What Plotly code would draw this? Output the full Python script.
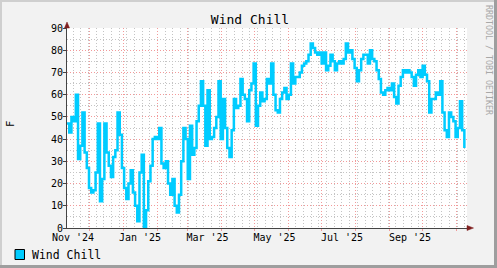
import plotly.graph_objects as go
import pandas as pd

# ---- data ----
wind_chill = [
    47, 43, 50, 48, 60, 31, 37, 52, 34, 27,
    18, 16, 17, 25, 47, 12, 22, 47, 34, 28,
    23, 32, 35, 52, 42, 27, 18, 13, 20, 26,
    16, 10, 3, 25, 33, 0, 8, 21, 28, 40,
    41, 40, 45, 29, 27, 30, 20, 15, 22, 10,
    7, 15, 30, 45, 40, 22, 46, 33, 36, 48,
    55, 66, 55, 37, 62, 40, 41, 45, 50, 66,
    40, 58, 45, 36, 32, 44, 58, 54, 55, 67,
    60, 58, 48, 62, 65, 74, 46, 55, 61, 57,
    58, 67, 65, 74, 60, 53, 52, 58, 61, 63,
    58, 60, 74, 65, 68, 68, 70, 73, 74, 75,
    78, 83, 81, 79, 78, 79, 74, 79, 71, 73,
    78, 75, 71, 74, 75, 74, 76, 83, 79, 80,
    76, 72, 66, 71, 76, 78, 78, 74, 80, 76,
    75, 71, 67, 61, 60, 62, 63, 62, 65, 59,
    56, 64, 68, 71, 70, 71, 70, 68, 64, 69,
    71, 68, 73, 69, 66, 52, 58, 58, 61, 60,
    66, 52, 44, 41, 52, 50, 48, 41, 45, 57,
    44, 36,
]
dates = pd.date_range("2024-11-11", periods=len(wind_chill), freq="2D")

month_starts = list(pd.date_range("2024-12-01", "2025-11-01", freq="MS"))
week_lines = list(pd.date_range("2024-11-16 12:00", "2025-11-10", freq="7D"))
label_dates = ["2024-11-16 10:00", "2025-01-16 11:00", "2025-03-19 00:00",
               "2025-05-19 00:00", "2025-07-19 12:00", "2025-09-19 12:00"]
label_text = ["Nov '24", "Jan '25", "Mar '25", "May '25", "Jul '25", "Sep '25"]
y_ticks = [0, 10, 20, 30, 40, 50, 60, 70, 80, 90]
x_range = ["2024-11-10 23:00", "2025-11-10 10:00"]

# ---- geometry helpers (pixel -> paper) ----
W, H = 497, 268
L, R, T, B = 67, 30, 28, 40
PW, PH = W - L - R, H - T - B


def px(x):
    return (x - L) / PW


def py(y):
    return (H - B - y) / PH


MONO = "DejaVu Sans Mono"
LINE_COLOR = "#00CCFF"
MAJOR = "#F29A9A"
MINOR = "#C4C4C4"
AXIS = "#444444"
ARROW = "#7F1F1F"
DOT = "1px,2px"

fig = go.Figure()
fig.add_trace(go.Scatter(
    x=dates, y=wind_chill, mode="lines",
    line=dict(color=LINE_COLOR, width=2.5, shape="hv"),
    showlegend=False, hoverinfo="skip",
))
# empty traces so the overlay axes (month grid / labels) are created
for ax in ("x2", "x3"):
    fig.add_trace(go.Scatter(x=[], y=[], xaxis=ax, yaxis="y",
                             showlegend=False, hoverinfo="skip"))

fig.update_layout(
    width=W, height=H, autosize=False,
    margin=dict(l=L, r=R, t=T, b=B, pad=0),
    paper_bgcolor="#F2F2F2", plot_bgcolor="#FFFFFF",
    title=dict(text="Wind Chill", x=250 / W, xanchor="center",
               y=1 - 19 / H, yanchor="middle", xref="container", yref="container",
               font=dict(family=MONO, size=13, color="#000000")),
    # weekly minor grid
    xaxis=dict(
        type="date", range=x_range,
        tickmode="array", tickvals=week_lines, ticktext=[""] * len(week_lines),
        showgrid=True, gridcolor=MINOR, griddash=DOT, gridwidth=1,
        ticks="", showticklabels=False,
        showline=True, linecolor=AXIS, linewidth=1, zeroline=False,
    ),
    # monthly major grid
    xaxis2=dict(
        type="date", range=x_range, overlaying="x", anchor="y", side="bottom",
        tickmode="array", tickvals=month_starts, ticktext=[""] * len(month_starts),
        showgrid=True, gridcolor=MAJOR, griddash=DOT, gridwidth=1,
        ticks="outside", ticklen=2, tickcolor=MAJOR, showticklabels=False,
        showline=False, zeroline=False,
    ),
    # labels
    xaxis3=dict(
        type="date", range=x_range, overlaying="x", anchor="y", side="bottom",
        tickmode="array", tickvals=label_dates, ticktext=label_text,
        showgrid=False, ticks="", showline=False, zeroline=False,
        tickfont=dict(family=MONO, size=10, color="#000000"),
        ticklabelstandoff=2,
    ),
    yaxis=dict(
        range=[0, 90], tickmode="array", tickvals=y_ticks,
        ticktext=[str(v) for v in y_ticks],
        showgrid=True, gridcolor=MAJOR, griddash=DOT,
        minor=dict(dtick=5, showgrid=True, gridcolor=MINOR, griddash=DOT, ticks=""),
        ticks="outside", ticklen=3, tickcolor=AXIS,
        showline=True, linecolor=AXIS, linewidth=1, zeroline=False,
        tickfont=dict(family=MONO, size=10, color="#000000"),
        ticklabelstandoff=-2,
    ),
    annotations=[
        dict(text="F", x=px(10), y=py(124), xref="paper", yref="paper",
             showarrow=False, textangle=-90, xanchor="center", yanchor="middle",
             font=dict(family=MONO, size=10.5, color="#000000")),
        dict(text="RRDTOOL / TOBI OETIKER", x=px(489), y=py(60), xref="paper", yref="paper",
             showarrow=False, textangle=90, xanchor="center", yanchor="middle",
             font=dict(family=MONO, size=8.3, color="#A8A8A8")),
        dict(text="Wind Chill", x=px(29.5), y=py(254.5), xref="paper", yref="paper",
             showarrow=False, xanchor="left", yanchor="middle",
             font=dict(family=MONO, size=11.5, color="#000000")),
    ],
    shapes=[
        # frame (3D bevel)
        dict(type="rect", xref="paper", yref="paper", x0=px(0), x1=px(W), y0=py(0), y1=py(2),
             fillcolor="#CFCFCF", line=dict(width=0), layer="below"),
        dict(type="rect", xref="paper", yref="paper", x0=px(0), x1=px(2), y0=py(0), y1=py(H),
             fillcolor="#CFCFCF", line=dict(width=0), layer="below"),
        dict(type="rect", xref="paper", yref="paper", x0=px(0), x1=px(W), y0=py(H - 3), y1=py(H),
             fillcolor="#9E9E9E", line=dict(width=0), layer="below"),
        dict(type="rect", xref="paper", yref="paper", x0=px(W - 3), x1=px(W), y0=py(0), y1=py(H),
             fillcolor="#9E9E9E", line=dict(width=0), layer="below"),
        # axis arrows
        dict(type="path", xref="paper", yref="paper",
             path=f"M {px(64.5)} {py(28)} L {px(69.5)} {py(28)} L {px(67)} {py(22)} Z",
             fillcolor=ARROW, line=dict(color=ARROW, width=0.5)),
        dict(type="path", xref="paper", yref="paper",
             path=f"M {px(467)} {py(225.5)} L {px(467)} {py(230.5)} L {px(473.5)} {py(228)} Z",
             fillcolor=ARROW, line=dict(color=ARROW, width=0.5)),
        # legend swatch
        dict(type="rect", xref="paper", yref="paper", x0=px(15), x1=px(24.5),
             y0=py(259.5), y1=py(249.5), fillcolor=LINE_COLOR, line=dict(color="#000000", width=1)),
    ],
)

fig.write_html("out.html")
